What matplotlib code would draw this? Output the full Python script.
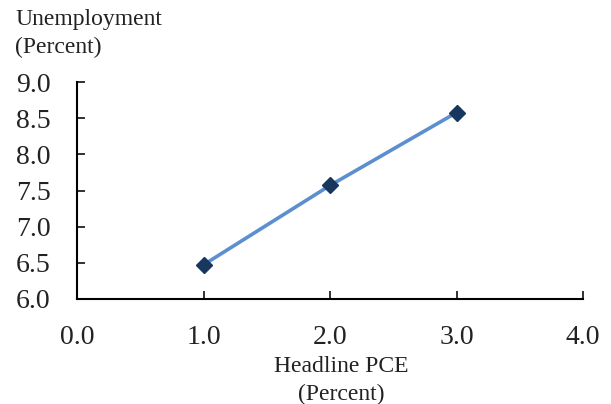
import matplotlib
matplotlib.use("Agg")
import matplotlib.pyplot as plt

pce = [1.0, 2.0, 3.0]
unemployment = [6.47, 7.57, 8.58]
x_ticks = [0.0, 1.0, 2.0, 3.0, 4.0]
y_ticks = [6.0, 6.5, 7.0, 7.5, 8.0, 8.5, 9.0]

plt.rcParams['font.family'] = ['Liberation Serif', 'DejaVu Serif']

fig = plt.figure(figsize=(6.11, 4.04), dpi=100)
ax = fig.add_axes([77/611, 1 - 298.7/404, (583-77)/611, (298.7-82.3)/404])

ax.plot(pce, unemployment, color='#5B8FD0', linewidth=2.6, marker='D',
        markersize=8, markerfacecolor='#17375E', markeredgecolor='#17375E', zorder=3)

ax.set_xlim(0, 4)
ax.set_ylim(6, 9)
ax.set_xticks(x_ticks)
ax.set_yticks(y_ticks)
ax.set_xticklabels([f"{v:.1f}" for v in x_ticks])
ax.set_yticklabels([f"{v:.1f}" for v in y_ticks])
for s in ['top', 'right']:
    ax.spines[s].set_visible(False)
for s in ['left', 'bottom']:
    ax.spines[s].set_linewidth(1.5)
    ax.spines[s].set_color('black')
ax.tick_params(axis='both', direction='in', length=6, width=1.3, labelsize=20, colors='#222222')
ax.tick_params(axis='x', pad=19)
ax.tick_params(axis='y', pad=19)

fig.text(15/611, 1 - 9/404, "Unemployment\n(Percent)", ha='left', va='top', fontsize=17,
         linespacing=1.45, color='#222222')
fig.text(341/611, 1 - 356/404, "Headline PCE\n(Percent)", ha='center', va='top', fontsize=17,
         linespacing=1.45, color='#222222')

fig.savefig("out.png", dpi=100)
